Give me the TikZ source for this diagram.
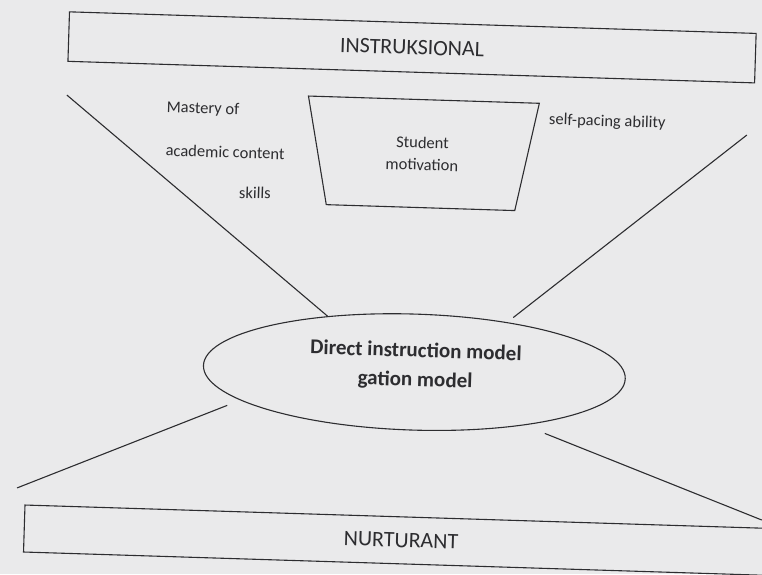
\documentclass[tikz,border=0pt]{standalone}
\usepackage{fontspec}
\setmainfont{Carlito}
\usetikzlibrary{shapes.geometric}
\definecolor{paper}{RGB}{234,234,235}
\definecolor{ink}{RGB}{45,45,48}

\begin{document}
\begin{tikzpicture}[
        x=1pt, y=-1pt,
        box/.style={draw=ink,line width=1.1pt,rectangle,inner sep=0pt,text=ink,font=\fontsize{22}{26}\selectfont},
        oval/.style={draw=ink,line width=1.1pt,ellipse,minimum width=422pt,minimum height=116pt,inner sep=0pt},
        ovaltext/.style={align=center,text=ink,font=\bfseries\fontsize{21}{29}\selectfont},
        funnel/.style={draw=ink,line width=1.1pt,trapezium,shape border rotate=180,trapezium angle=62.2,
            trapezium stretches body,minimum width=231pt,minimum height=108pt,align=center,text=ink,
            font=\fontsize{16.5}{22}\selectfont},
        lbl/.style={text=ink,font=\fontsize{16.5}{20}\selectfont},
        link/.style={draw=ink,line width=1.1pt},
        ]
    \fill[paper] (0,0) rectangle (762,574);
    \useasboundingbox (0,0) rectangle (762,574);
    \begin{scope}[rotate around={-1.8:(381,287)},transform shape]
    % the two layers
    \node (instr) [box,minimum width=687pt,minimum height=49.5pt] at (404.5,46.5) {INSTRUKSIONAL};
    \node (nurt) [box,minimum width=754pt,minimum height=47pt] at (409,539.6) {NURTURANT};
    % model in the middle
    \node (dim) [oval] at (417,371) {};
    \node (dimtext) [ovaltext] at (418,365) {Direct instruction model\\gation model};
    \node (motiv) [funnel] at (418,152.4) {Student\\motivation};
    % effects
    \node (mastery) [lbl] at (197.5,114.7) {Mastery of};
    \node (content) [lbl] at (221,157) {academic content};
    \node (skills) [lbl] at (252,197) {skills};
    \node (pacing) [lbl] at (602,115) {self-pacing ability};
    % free ends of the lines
    \coordinate (c1) at (61,105);
    \coordinate (c2) at (742,123.6);
    \coordinate (c3) at (23.5,499.3);
    \coordinate (c4) at (769,508);
    \draw [link] (c1) -- (dim.149);
    \draw [link,shorten >=7.5pt] (c2) -- (dim.30);
    \draw [link,shorten >=14pt] (c3) -- (dim.191);
    \draw [link,shorten >=22pt] (c4) -- (dim.336);
    \end{scope}
\end{tikzpicture}
\end{document}
